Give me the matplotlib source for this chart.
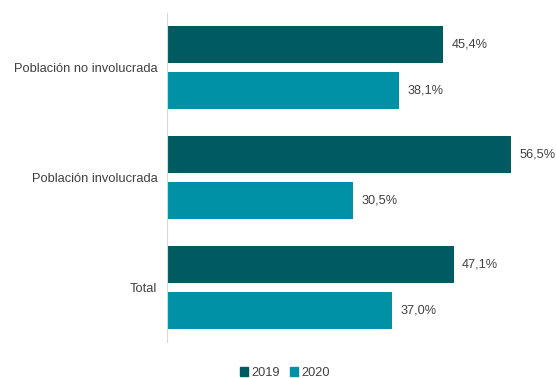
import numpy as np
import matplotlib.pyplot as plt
from matplotlib.patches import Patch

plt.rcParams['font.family'] = ['Liberation Sans', 'DejaVu Sans']

categories = ['Total', 'Población involucrada', 'Población no involucrada']
vals_2019 = [47.1, 56.5, 45.4]
vals_2020 = [37.0, 30.5, 38.1]
series = ['2019', '2020']
colors = ['#005A61', '#0091A6']
text_col = '#404040'

fig = plt.figure(figsize=(5.56, 3.78), dpi=100)
W, H = 556, 378
ax = fig.add_axes([167 / W, 1 - 342 / H, (532 - 167) / W, (342 - 13) / H])

y = np.arange(len(categories))
h = 0.336
off = 0.209
b1 = ax.barh(y + off, vals_2019, height=h, color=colors[0])
b2 = ax.barh(y - off, vals_2020, height=h, color=colors[1])

for bars, vals in ((b1, vals_2019), (b2, vals_2020)):
    for bar, v in zip(bars, vals):
        ax.text(v + 1.4, bar.get_y() + bar.get_height() / 2,
                f'{v:.1f}%'.replace('.', ','), va='center', ha='left',
                fontsize=9.2, color=text_col)

ax.set_xlim(0, 60)
ax.set_ylim(-0.5, 2.5)
ax.set_yticks(y)
ax.set_yticklabels(categories, fontsize=9.3, color=text_col)
ax.tick_params(axis='y', length=0, pad=7)
ax.set_xticks([])
for s in ('top', 'right', 'bottom'):
    ax.spines[s].set_visible(False)
ax.spines['left'].set_color('#D9D9D9')

handles = [Patch(color=c, label=l) for c, l in zip(colors, series)]
fig.legend(handles=handles, loc='center', bbox_to_anchor=(285 / W, 1 - 373 / H),
           ncol=2, frameon=False, fontsize=9.2, handlelength=0.6, handleheight=0.6,
           columnspacing=0.8, handletextpad=0.3, labelcolor=text_col)

fig.savefig('out.png', dpi=100)
